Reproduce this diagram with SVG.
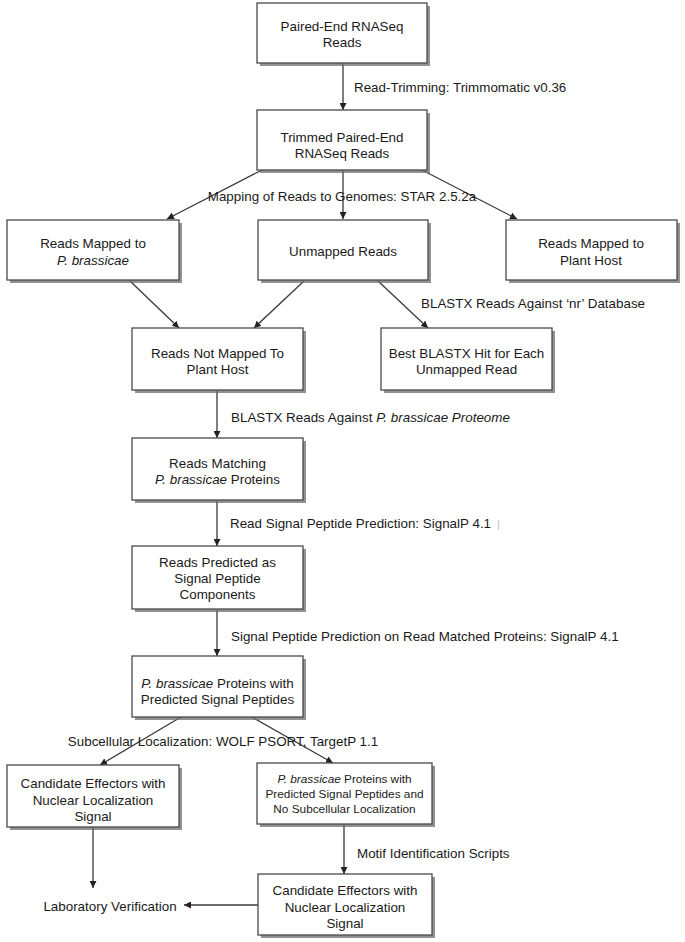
<svg xmlns="http://www.w3.org/2000/svg" width="685" height="942" viewBox="0 0 685 942">
<style>
  .box { fill: #ffffff; stroke: #4a4a4a; stroke-width: 1.3; }
  .sh { fill: #6e6e6e; opacity: 0.75; }
  .t { font-family: "Liberation Sans", Arial, sans-serif; font-size: 13.4px; fill: #1a1a1a; text-anchor: middle; }
  .ts { font-family: "Liberation Sans", Arial, sans-serif; font-size: 11.8px; fill: #1a1a1a; text-anchor: middle; }
  .lbl { font-family: "Liberation Sans", Arial, sans-serif; font-size: 13.4px; fill: #1a1a1a; }
  .i { font-style: italic; }
  .c { stroke: #3a3a3a; stroke-width: 1.3; fill: none; marker-end: url(#ah); }
</style>
<defs>
  <marker id="ah" viewBox="0 0 10 10" refX="10" refY="5" markerWidth="7" markerHeight="7" markerUnits="userSpaceOnUse" orient="auto">
    <path d="M0,0 L10,5 L0,10 z" fill="#222"/>
  </marker>
</defs>
<rect width="685" height="942" fill="#ffffff"/>

<g id="connectors">
  <line class="c" x1="343" y1="63" x2="343" y2="110"/>
  <line class="c" x1="262" y1="170" x2="167" y2="219"/>
  <line class="c" x1="343" y1="170" x2="343" y2="219"/>
  <line class="c" x1="422" y1="170" x2="517" y2="219"/>
  <line class="c" x1="130" y1="281" x2="179" y2="328"/>
  <line class="c" x1="304" y1="281" x2="254" y2="328"/>
  <line class="c" x1="378" y1="281" x2="428" y2="328"/>
  <line class="c" x1="217" y1="391" x2="217" y2="438"/>
  <line class="c" x1="217" y1="501" x2="217" y2="546"/>
  <line class="c" x1="217" y1="610" x2="217" y2="656"/>
  <line class="c" x1="181" y1="717" x2="100" y2="765"/>
  <line class="c" x1="252" y1="717" x2="333" y2="763"/>
  <line class="c" x1="93" y1="827" x2="93" y2="888"/>
  <line class="c" x1="344" y1="824" x2="344" y2="874"/>
  <line class="c" x1="258" y1="905" x2="184" y2="905"/>
  <text class="lbl" x="354" y="91.5">Read-Trimming: Trimmomatic v0.36</text>
  <text class="lbl" x="342" y="201" text-anchor="middle">Mapping of Reads to Genomes: STAR 2.5.2a</text>
  <text class="lbl" x="421" y="307.5">BLASTX Reads Against ‘nr’ Database</text>
  <text class="lbl" x="231" y="421.5">BLASTX Reads Against <tspan class="i">P. brassicae Proteome</tspan></text>
  <text class="lbl" x="230" y="528">Read Signal Peptide Prediction: SignalP 4.1</text>
  <line x1="498.5" y1="520" x2="498.5" y2="530" stroke="#d0d0d0" stroke-width="1.5"/>
  <text class="lbl" x="231" y="641">Signal Peptide Prediction on Read Matched Proteins: SignalP 4.1</text>
  <text class="lbl" x="223" y="746" text-anchor="middle">Subcellular Localization: WOLF PSORT, TargetP 1.1</text>
  <text class="lbl" x="357" y="858">Motif Identification Scripts</text>
</g>

<g id="n1">
  <rect class="sh" x="260" y="6" width="170" height="60"/>
  <rect class="box" x="257" y="3" width="170" height="60"/>
  <text class="t" x="342" y="30.5">Paired-End RNASeq</text>
  <text class="t" x="342" y="46.5">Reads</text>
</g>
<g id="n2">
  <rect class="sh" x="260" y="113" width="170" height="60"/>
  <rect class="box" x="257" y="110" width="170" height="60"/>
  <text class="t" x="342" y="141.5">Trimmed Paired-End</text>
  <text class="t" x="342" y="157.5">RNASeq Reads</text>
</g>
<g id="n3">
  <rect class="sh" x="10" y="223" width="172" height="60"/>
  <rect class="box" x="7" y="220" width="172" height="60"/>
  <text class="t" x="93" y="248">Reads Mapped to</text>
  <text class="t i" x="93" y="265">P. brassicae</text>
</g>
<g id="n4">
  <rect class="sh" x="261" y="223" width="170" height="60"/>
  <rect class="box" x="258" y="220" width="170" height="60"/>
  <text class="t" x="343" y="256">Unmapped Reads</text>
</g>
<g id="n5">
  <rect class="sh" x="509" y="223" width="171" height="60"/>
  <rect class="box" x="506" y="220" width="171" height="60"/>
  <text class="t" x="591" y="248">Reads Mapped to</text>
  <text class="t" x="591" y="265">Plant Host</text>
</g>
<g id="n6">
  <rect class="sh" x="135" y="331" width="171" height="62"/>
  <rect class="box" x="132" y="328" width="171" height="62"/>
  <text class="t" x="217.5" y="358">Reads Not Mapped To</text>
  <text class="t" x="217.5" y="374">Plant Host</text>
</g>
<g id="n7">
  <rect class="sh" x="384" y="331" width="171" height="62"/>
  <rect class="box" x="381" y="328" width="171" height="62"/>
  <text class="t" x="466.5" y="358">Best BLASTX Hit for Each</text>
  <text class="t" x="466.5" y="374">Unmapped Read</text>
</g>
<g id="n8">
  <rect class="sh" x="135" y="441" width="171" height="62"/>
  <rect class="box" x="132" y="438" width="171" height="62"/>
  <text class="t" x="217.5" y="468">Reads Matching</text>
  <text class="t" x="217.5" y="484"><tspan class="i">P. brassicae</tspan> Proteins</text>
</g>
<g id="n9">
  <rect class="sh" x="135" y="549" width="171" height="63"/>
  <rect class="box" x="132" y="546" width="171" height="63"/>
  <text class="t" x="217.5" y="567">Reads Predicted as</text>
  <text class="t" x="217.5" y="583">Signal Peptide</text>
  <text class="t" x="217.5" y="599">Components</text>
</g>
<g id="n10">
  <rect class="sh" x="135" y="659" width="171" height="61"/>
  <rect class="box" x="132" y="656" width="171" height="61"/>
  <text class="t" x="217.5" y="687.5">
    <tspan class="i">P. brassicae</tspan> Proteins with</text>
  <text class="t" x="217.5" y="704">Predicted Signal Peptides</text>
</g>
<g id="n11">
  <rect class="sh" x="10" y="768" width="172" height="62"/>
  <rect class="box" x="7" y="765" width="172" height="62"/>
  <text class="t" x="93" y="788">Candidate Effectors with</text>
  <text class="t" x="93" y="805">Nuclear Localization</text>
  <text class="t" x="93" y="821">Signal</text>
</g>
<g id="n12">
  <rect class="sh" x="260" y="766" width="175" height="61"/>
  <rect class="box" x="257" y="763" width="175" height="61"/>
  <text class="ts" x="344.5" y="783"><tspan class="i">P. brassicae</tspan> Proteins with</text>
  <text class="ts" x="344.5" y="798">Predicted Signal Peptides and</text>
  <text class="ts" x="344.5" y="813">No Subcellular Localization</text>
</g>
<g id="n13">
  <rect class="sh" x="261" y="877" width="174" height="61"/>
  <rect class="box" x="258" y="874" width="174" height="61"/>
  <text class="t" x="345" y="895">Candidate Effectors with</text>
  <text class="t" x="345" y="912">Nuclear Localization</text>
  <text class="t" x="345" y="928">Signal</text>
</g>
<g id="n14">
  <text class="t" x="110" y="911">Laboratory Verification</text>
</g>
</svg>
